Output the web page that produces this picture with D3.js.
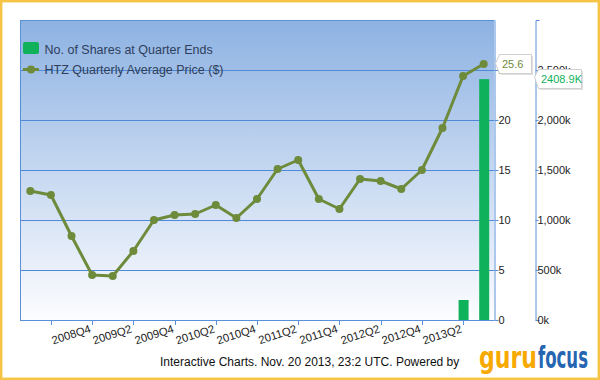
<!DOCTYPE html>
<html><head><meta charset="utf-8">
<script src="https://cdn.jsdelivr.net/npm/d3@7/dist/d3.min.js"></script>
<style>body{margin:0;background:#fff}svg{display:block;font-family:"Liberation Sans",Arial,sans-serif}</style>
</head><body><svg id="c" width="600" height="380"></svg>
<script>
const quarters = ["2008Q1","2008Q2","2008Q3","2008Q4","2009Q1","2009Q2","2009Q3","2009Q4","2010Q1","2010Q2","2010Q3","2010Q4","2011Q1","2011Q2","2011Q3","2011Q4","2012Q1","2012Q2","2012Q3","2012Q4","2013Q1","2013Q2","2013Q3"];
const prices = [12.9,12.5,8.4,4.5,4.4,6.9,10.0,10.5,10.6,11.5,10.2,12.1,15.1,16.0,12.1,11.1,14.1,13.9,13.1,15.0,19.2,24.4,25.6];
const shareQuarters = ["2013Q2","2013Q3"];
const sharesK = [200,2408.9];
const xTickQuarters = ["2008Q2","2008Q4","2009Q2","2009Q4","2010Q2","2010Q4","2011Q2","2011Q4","2012Q2","2012Q4","2013Q2"];
const xTickLabels = ["","2008Q4","2009Q2","2009Q4","2010Q2","2010Q4","2011Q2","2011Q4","2012Q2","2012Q4","2013Q2"];
const priceTicks = [0,5,10,15,20,25];
const shareTicks = [0,500,1000,1500,2000,2500];
const legendLabels = ["No. of Shares at Quarter Ends","HTZ Quarterly Average Price ($)"];
const lastPriceLabel = "25.6";
const lastShareLabel = "2408.9K";
const footerText = "Interactive Charts. Nov. 20 2013, 23:2 UTC. Powered by";

const svg = d3.select("#c");
const L=20,R=494,T=20,B=320;
const barColor="#0fb25a", lineColor="#6e8a3b", gridColor="#4f8ad8";

// outer frame
svg.append("rect").attr("x",1.2).attr("y",1.2).attr("width",597.6).attr("height",377.6)
  .attr("fill","#fff").attr("stroke","#f6c445").attr("stroke-width",2.4);

const defs = svg.append("defs");
const g = defs.append("linearGradient").attr("id","bg").attr("x1",0).attr("y1",0).attr("x2",0).attr("y2",1);
g.append("stop").attr("offset","0%").attr("stop-color","#8db2e2");
g.append("stop").attr("offset","100%").attr("stop-color","#fdfdff");

const x = d3.scaleBand().domain(quarters).range([L,R]).padding(0);
const y = d3.scaleLinear().domain([0,30]).range([B,T]);
const y2 = d3.scaleLinear().domain([0,3000]).range([B,T]);
const cx = q => x(q)+x.bandwidth()/2;

svg.append("rect").attr("x",L).attr("y",T).attr("width",R-L).attr("height",B-T).attr("fill","url(#bg)");

// gridlines
svg.append("g").selectAll("line").data(priceTicks.filter(v=>v>0&&v<30)).join("line")
  .attr("x1",L).attr("x2",R).attr("y1",d=>Math.round(y(d))+0.5).attr("y2",d=>Math.round(y(d))+0.5)
  .attr("stroke",gridColor).attr("stroke-width",1);

// border
svg.append("path").attr("d",`M${L+0.5},${B+0.5}V${T+0.5}H${R+0.5}`).attr("fill","none").attr("stroke","#5a90d9");

// bars
svg.append("g").selectAll("rect").data(shareQuarters.map((q,i)=>({q,v:sharesK[i]}))).join("rect")
  .attr("x",d=>cx(d.q)-4.5).attr("width",10)
  .attr("y",d=>y2(d.v)).attr("height",d=>B-y2(d.v)).attr("fill",barColor);

// x axis
const xa = svg.append("g").attr("transform",`translate(0,${B})`);
xa.append("line").attr("x1",L).attr("x2",R).attr("y1",0.5).attr("y2",0.5).attr("stroke","#5a90d9");
xTickQuarters.forEach((q,i)=>{
  const px = Math.round(cx(q))+0.5;
  xa.append("line").attr("x1",px).attr("x2",px).attr("y1",0).attr("y2",5).attr("stroke","#5a90d9");
  if(xTickLabels[i]) xa.append("text").attr("transform",`translate(${px-1},${12}) rotate(-18)`)
    .attr("text-anchor","end").attr("font-size",11.3).attr("fill","#222").text(xTickLabels[i]);
});

// price axis (right of plot)
const pa = svg.append("g").attr("transform",`translate(${R+0.5},0)`)
  .call(d3.axisRight(y).tickValues(priceTicks).tickSize(4).tickSizeOuter(0).tickPadding(0));
pa.select(".domain").attr("stroke","#5a90d9");
pa.selectAll(".tick line").attr("stroke","#5a90d9");
pa.selectAll(".tick text").attr("font-size",11).attr("fill","#222").attr("font-family","Liberation Sans, Arial, sans-serif");

// shares axis
const sa = svg.append("g").attr("transform",`translate(535.5,0)`)
  .call(d3.axisRight(y2).tickValues(shareTicks).tickSize(3).tickSizeOuter(4).tickPadding(-1)
    .tickFormat(v=>d3.format(",")(v)+"k"));
sa.select(".domain").attr("stroke","#5a90d9");
sa.selectAll(".tick line").attr("stroke","#5a90d9");
sa.selectAll(".tick text").attr("font-size",11).attr("fill","#222").attr("font-family","Liberation Sans, Arial, sans-serif");

// line
const pts = quarters.map((q,i)=>({q,v:prices[i]}));
svg.append("path").datum(pts).attr("fill","none").attr("stroke",lineColor).attr("stroke-width",3)
  .attr("stroke-linejoin","round").attr("d",d3.line().x(d=>cx(d.q)).y(d=>y(d.v)));
svg.append("g").selectAll("circle").data(pts).join("circle")
  .attr("cx",d=>cx(d.q)).attr("cy",d=>y(d.v)).attr("r",4).attr("fill",lineColor);

// legend
svg.append("rect").attr("x",23).attr("y",42).attr("width",16).attr("height",12).attr("rx",2).attr("fill",barColor);
svg.append("line").attr("x1",23).attr("x2",39).attr("y1",69.5).attr("y2",69.5).attr("stroke",lineColor).attr("stroke-width",3);
svg.append("circle").attr("cx",31).attr("cy",69.5).attr("r",4).attr("fill",lineColor);
svg.append("text").attr("x",44.5).attr("y",53.5).attr("font-size",12.5).attr("fill","#2e3e5c").text(legendLabels[0]);
svg.append("text").attr("x",44.5).attr("y",73.5).attr("font-size",12.5).attr("fill","#2e3e5c").text(legendLabels[1]);

// value flags
function flag(tipX,tipY,left,top,right,bottom,txt,color){
  const d=`M${tipX},${tipY}L${left},${top}H${right}V${bottom}H${left}Z`;
  svg.append("path").attr("d",d).attr("transform","translate(1.5,1.5)").attr("fill","rgba(0,0,0,0.12)");
  svg.append("path").attr("d",d).attr("fill","#fff").attr("stroke","#cfcfcf").attr("stroke-width",1);
  svg.append("text").attr("x",left+2.5).attr("y",(top+bottom)/2+4).attr("font-size",11).attr("fill",color).text(txt);
}
flag(495.5, y(prices[prices.length-1])-0.5, 499.5, 54.5, 531.5, 73.5, lastPriceLabel, lineColor);
flag(534.5, y2(sharesK[sharesK.length-1])-2, 538.5, 69.5, 581.5, 88.5, lastShareLabel, barColor);

// footer
svg.append("text").attr("x",160).attr("y",365.5).attr("font-size",12).attr("fill","#111").text(footerText);
svg.append("text").attr("x",479).attr("y",368).attr("font-size",30).attr("font-weight","bold")
  .attr("font-family","Liberation Sans Narrow, DejaVu Sans Condensed, sans-serif")
  .attr("textLength",58).attr("lengthAdjust","spacingAndGlyphs").attr("fill","#f7a900").text("guru");
svg.append("text").attr("x",538).attr("y",368).attr("font-size",30).attr("font-weight","bold")
  .attr("font-family","Liberation Sans Narrow, DejaVu Sans Condensed, sans-serif")
  .attr("textLength",50).attr("lengthAdjust","spacingAndGlyphs").attr("fill","#2565b1").text("focus");
</script></body></html>
